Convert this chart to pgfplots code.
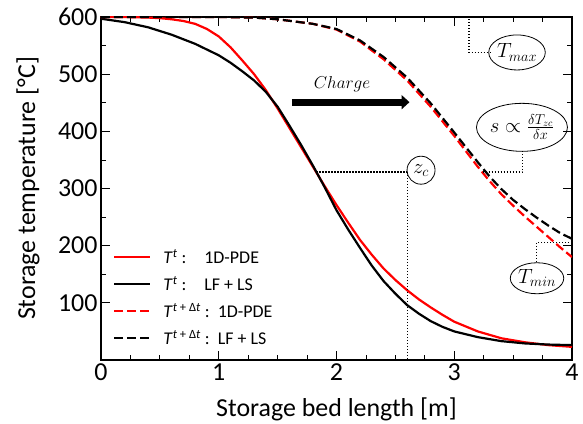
\documentclass[border=0pt]{standalone}
\usepackage{fontspec}
\setmainfont{Carlito}
\usepackage{pgfplots}
\pgfplotsset{compat=1.18}
\usetikzlibrary{shapes.geometric,arrows.meta}

\pgfplotstableread{
x T
0.0 597
0.2 591
0.4 582
0.6 569
0.8 553
1.0 533
1.1 520
1.2 505
1.3 489
1.4 469
1.5 443
1.6 410
1.7 376
1.8 340
1.9 302
2.0 262
2.1 228
2.2 196
2.3 165
2.4 138
2.5 116
2.6 96
2.7 81
2.8 68
2.9 58
3.0 50
3.2 40
3.4 33
3.6 29
3.8 27
4.0 26
}\blackSolid

\pgfplotstableread{
x T
0.0 600
0.2 600
0.4 599
0.5 598
0.6 596
0.7 593
0.8 588
0.9 579
1.0 566
1.1 547
1.2 524
1.3 500
1.4 472
1.5 440
1.6 406
1.7 372
1.8 338
1.9 304
2.0 271
2.1 240
2.2 210
2.3 184
2.4 160
2.5 140
2.6 122
2.7 106
2.8 92
2.9 79
3.0 67
3.2 50
3.4 38
3.6 31
3.8 26
4.0 23
}\redSolid

\pgfplotstableread{
x T
0.0 600
1.0 600
1.3 599
1.5 596
1.8 588
2.0 578
2.2 557
2.4 526
2.6 489
2.8 443
3.0 392
3.1 365
3.2 338
3.3 313
3.4 290
3.5 270
3.6 251
3.7 233
3.8 215
3.9 197
4.0 180
}\redDashed

\pgfplotstableread{
x T
0.0 600
1.0 600
1.3 599
1.5 596
1.8 588
2.0 579
2.2 559
2.4 530
2.6 494
2.8 449
3.0 398
3.1 372
3.2 346
3.3 321
3.4 299
3.5 280
3.6 264
3.7 249
3.8 235
3.9 222
4.0 212
}\blackDashed

\begin{document}
\begin{tikzpicture}
\begin{axis}[name=ax, scale only axis, width=471bp, height=343bp,
  xmin=0, xmax=4, ymin=0, ymax=600,
  xtick={0,1,2,3,4}, ytick={100,200,...,600},
  minor x tick num=3, minor y tick num=1,
  tick align=inside, major tick length=9bp, minor tick length=5bp,
  axis line style={line width=1.3bp},
  every tick/.style={black, line width=0.8bp},
  ticklabel style={font=\fontsize{26}{28}\selectfont},
  /pgf/number format/assume math mode=true,
  xlabel={Storage bed length [m]},
  ylabel={Storage temperature [°C]},
  label style={font=\fontsize{26}{30}\selectfont},
  xlabel style={at={(axis description cs:0.5,-0.166)}, anchor=base},
  ylabel style={at={(axis description cs:-0.140,0.5)}, anchor=base},
  legend image code/.code={\draw[#1] (0bp,0bp) -- (36bp,0bp);},
  legend style={draw=none, fill=none, inner sep=0pt, column sep=12bp,
    at={(axis cs:0.102,204)}, anchor=north west,
    nodes={inner sep=0pt, minimum height=27bp, font=\fontsize{18}{20}\selectfont}},
  legend cell align=left,
]
\addplot[red, line width=2.2bp] table {\redSolid};
\addlegendentry{\textit{T}\textsuperscript{\textit{t}} :\quad 1D-PDE}
\addplot[black, line width=2.2bp] table {\blackSolid};
\addlegendentry{\textit{T}\textsuperscript{\textit{t}} :\quad LF + LS}
\addplot[red, line width=2.2bp, dash pattern=on 9bp off 4bp] table {\redDashed};
\addlegendentry{\textit{T}\textsuperscript{\textit{t} + Δ\textit{t}} :\ \ 1D-PDE}
\addplot[black, line width=2.2bp, dash pattern=on 9bp off 4bp] table {\blackDashed};
\addlegendentry{\textit{T}\textsuperscript{\textit{t} + Δ\textit{t}} :\ \ LF + LS}

% annotations
\draw[line width=1.2bp, dash pattern=on 1.3bp off 1.7bp] (axis cs:2.2,600) -- (axis cs:3.125,600) -- (axis cs:3.125,538) -- (axis cs:3.31,538);
\node[draw, ellipse, line width=0.8bp, inner sep=0pt, minimum width=53bp, minimum height=35bp, font=\fontsize{21}{24}\selectfont] at (axis cs:3.533,538) {$T_{max}$};

\draw[line width=1.2bp, dash pattern=on 1.3bp off 1.7bp] (axis cs:3.24,329) -- (axis cs:3.58,329) -- (axis cs:3.58,366);
\node[draw, ellipse, line width=0.8bp, inner sep=0pt, minimum width=72bp, minimum height=48bp, font=\fontsize{20}{24}\selectfont] at (axis cs:3.575,407) {$s\propto\frac{\delta T_{zc}}{\delta x}$};

\draw[line width=1.2bp, dash pattern=on 1.3bp off 1.7bp] (axis cs:1.83,329) -- (axis cs:2.60,329);
\draw[line width=1.2bp, dash pattern=on 1.3bp off 1.7bp] (axis cs:2.60,329) -- (axis cs:2.60,0);
\node[draw, ellipse, line width=0.8bp, inner sep=0pt, minimum width=28bp, minimum height=28bp, font=\fontsize{22}{24}\selectfont] at (axis cs:2.718,332) {$z_c$};

\draw[line width=1.2bp, dash pattern=on 1.3bp off 1.7bp] (axis cs:4,206) -- (axis cs:3.70,206) -- (axis cs:3.70,170);
\node[draw, ellipse, line width=0.8bp, inner sep=0pt, minimum width=53bp, minimum height=31bp, font=\fontsize{21}{24}\selectfont] at (axis cs:3.703,143) {$T_{min}$};

\draw[line width=7bp, -{Triangle[length=8bp,width=14bp]}] (axis cs:1.62,451) -- (axis cs:2.62,451);
\node[font=\fontsize{18}{20}\selectfont] at (axis cs:2.047,482) {$Charge$};
\end{axis}
\pgfresetboundingbox
\path ([xshift=-101bp,yshift=-64bp]ax.south west) rectangle ([xshift=11bp,yshift=17bp]ax.north east);
\end{tikzpicture}
\end{document}
